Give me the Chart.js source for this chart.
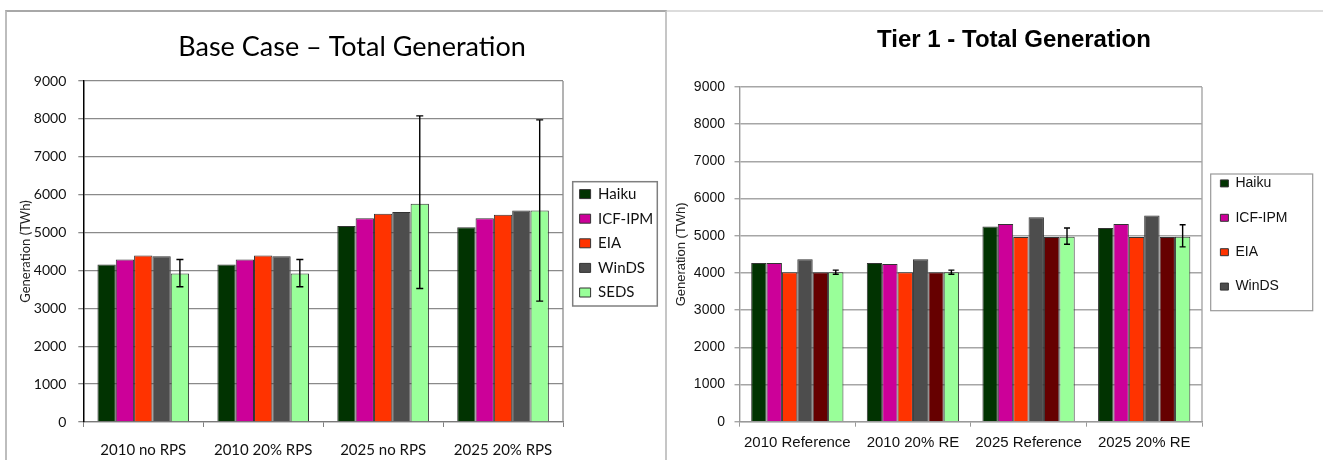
<!DOCTYPE html>
<html>
<head>
<meta charset="utf-8">
<title>Total Generation</title>
<script src="https://cdn.jsdelivr.net/npm/chart.js@4.4.1/dist/chart.umd.min.js"></script>
<style>
  body { margin: 0; background: #fff; width: 1323px; height: 460px; overflow: hidden; position: relative; }
  .panel { position: absolute; top: 10px; height: 460px; box-sizing: border-box; }
  #basePanel { left: 5px; width: 662px; border-left: 2px solid #bdbdbd; border-top: 2px solid #a8a8a8; border-right: 2px solid #c6c6c6; }
  #tierPanel { left: 667px; width: 660px; border-top: 2px solid #dcdcdc; }
  canvas { position: absolute; top: 0; }
</style>
</head>
<body>
<div class="panel" id="basePanel"></div>
<div class="panel" id="tierPanel"></div>
<canvas id="baseChart" width="666" height="460" style="left:0"></canvas>
<canvas id="tierChart" width="658" height="460" style="left:665px"></canvas>
<script>
// Base case chart
const baseCategories = ['2010 no RPS', '2010 20% RPS', '2025 no RPS', '2025 20% RPS'];
const baseHaiku = [4160, 4160, 5170, 5140];
const baseIcfIpm = [4290, 4290, 5375, 5378];
const baseEia = [4395, 4395, 5495, 5468];
const baseWinds = [4375, 4375, 5540, 5580];
const baseSeds = [3920, 3920, 5760, 5580];
const baseSedsLow = [3570, 3570, 3525, 3190];
const baseSedsHigh = [4290, 4290, 8080, 7975];

// Tier 1 chart
const tierCategories = ['2010 Reference', '2010 20% RE', '2025 Reference', '2025 20% RE'];
const tierHaiku = [4265, 4265, 5250, 5210];
const tierIcfIpm = [4265, 4240, 5315, 5315];
const tierEia = [4020, 4020, 4965, 4965];
const tierWinds = [4365, 4365, 5495, 5545];
const tierOther = [4020, 4020, 4965, 4965];
const tierSeds = [4020, 4020, 4970, 4970];
const tierSedsLow = [3965, 3965, 4770, 4700];
const tierSedsHigh = [4075, 4075, 5210, 5295];

const yTicks = [0, 9000, 1000]; // min, max, step

const colors = {
    haiku: '#013301',
    icf: '#cc0099',
    eia: '#ff3300',
    winds: '#4d4d4d',
    seds: '#99ff99',
    other: '#660000'
};

function bars(label, data, color) {
    return { label: label, data: data, backgroundColor: color, borderColor: '#333', borderWidth: 1 };
}

// moves title/legend where the original had them, draws legend frame and plot edge
const decor = {
    id: 'decor',
    afterLayout(chart, args, o) {
        var t = chart.titleBlock;
        var half = (t.right - t.left) / 2;
        t.left = o.titleX - half;
        t.right = o.titleX + half;
        var lg = chart.legend;
        var h = lg.bottom - lg.top;
        lg.left = o.legendX;
        lg.right = o.legendX + 130;
        lg.width = 130;
        lg.top = o.legendY;
        lg.bottom = o.legendY + h;
    },
    beforeDraw(chart, args, o) {
        var ctx = chart.ctx, f = o.frame;
        ctx.save();
        ctx.strokeStyle = f.color;
        ctx.lineWidth = f.width;
        ctx.strokeRect(f.x, f.y, f.w, f.h);
        ctx.restore();
    },
    afterDraw(chart, args, o) {
        var ctx = chart.ctx, a = chart.chartArea;
        ctx.save();
        ctx.strokeStyle = o.edgeColor;
        ctx.lineWidth = o.edgeWidth;
        ctx.beginPath();
        ctx.moveTo(a.right, a.top);
        ctx.lineTo(a.right, a.bottom);
        ctx.stroke();
        ctx.restore();
    }
};

const errorBars = {
    id: 'errorBars',
    afterDatasetsDraw(chart, args, o) {
        var meta = chart.getDatasetMeta(o.datasetIndex);
        var y = chart.scales.y;
        var ctx = chart.ctx;
        ctx.save();
        ctx.strokeStyle = '#000';
        ctx.lineWidth = o.lineWidth;
        meta.data.forEach(function (bar, i) {
            var top = y.getPixelForValue(o.high[i]);
            var bottom = y.getPixelForValue(o.low[i]);
            ctx.beginPath();
            ctx.moveTo(bar.x, top); ctx.lineTo(bar.x, bottom);
            ctx.moveTo(bar.x - o.cap, top); ctx.lineTo(bar.x + o.cap, top);
            ctx.moveTo(bar.x - o.cap, bottom); ctx.lineTo(bar.x + o.cap, bottom);
            ctx.stroke();
        });
        ctx.restore();
    }
};

function drawBase() {
    var font = 'Lato';
    new Chart(document.getElementById('baseChart'), {
        type: 'bar',
        data: {
            labels: baseCategories,
            datasets: [
                bars('Haiku', baseHaiku, colors.haiku),
                bars('ICF-IPM', baseIcfIpm, colors.icf),
                bars('EIA', baseEia, colors.eia),
                bars('WinDS', baseWinds, colors.winds),
                bars('SEDS', baseSeds, colors.seds)
            ]
        },
        options: {
            responsive: false,
            animation: false,
            layout: { padding: { left: 18, right: 43, top: 10, bottom: 0 } },
            datasets: { bar: { categoryPercentage: 0.764, barPercentage: 1 } },
            scales: {
                x: {
                    grid: { offset: true, drawOnChartArea: false, tickLength: 5, color: '#808080' },
                    border: { color: '#7a7a7a', width: 1.3 },
                    ticks: { padding: 14, maxRotation: 0, color: '#111', font: { family: font, size: 15 } },
                    afterFit: function (s) { s.height = 38; }
                },
                y: {
                    min: yTicks[0], max: yTicks[1],
                    ticks: { stepSize: yTicks[2], padding: 12, color: '#111', font: { family: font, size: 14 },
                        callback: function (v) { return String(v); } },
                    grid: { color: '#8a8a8a', lineWidth: 1.3, tickLength: 5 },
                    border: { color: '#000', width: 1.5 },
                    title: { display: true, text: 'Generation (TWh)', color: '#222', padding: 0,
                        font: { family: font, size: 13 } },
                    afterFit: function (s) { s.width = 65.3; }
                }
            },
            plugins: {
                title: {
                    display: true, text: 'Base Case – Total Generation', color: '#000',
                    font: { family: font, size: 27, weight: 'normal', lineHeight: 1.1 },
                    padding: { top: 22.2, bottom: 19.1 }
                },
                legend: {
                    position: 'right', align: 'start', fullSize: false, maxWidth: 60,
                    labels: { boxWidth: 11, boxHeight: 9, padding: 9.6, color: '#111',
                        font: { family: font, size: 15 } }
                },
                tooltip: { enabled: false },
                decor: {
                    titleX: 352, legendX: 570, legendY: 177,
                    frame: { x: 572.7, y: 181.7, w: 84.6, h: 124.3, color: '#7f7f7f', width: 1.5 },
                    edgeColor: '#8a8a8a', edgeWidth: 1.3
                },
                errorBars: { datasetIndex: 4, low: baseSedsLow, high: baseSedsHigh, cap: 3.5, lineWidth: 1.4 }
            }
        },
        plugins: [decor, errorBars]
    });
}

function drawTier() {
    var font = 'Liberation Sans, Arial, sans-serif';
    new Chart(document.getElementById('tierChart'), {
        type: 'bar',
        data: {
            labels: tierCategories,
            datasets: [
                bars('Haiku', tierHaiku, colors.haiku),
                bars('ICF-IPM', tierIcfIpm, colors.icf),
                bars('EIA', tierEia, colors.eia),
                bars('WinDS', tierWinds, colors.winds),
                bars('Other', tierOther, colors.other),
                bars('SEDS', tierSeds, colors.seds)
            ]
        },
        options: {
            responsive: false,
            animation: false,
            layout: { padding: { left: 9, right: 61, top: 10, bottom: 0 } },
            datasets: { bar: { categoryPercentage: 0.798, barPercentage: 1 } },
            scales: {
                x: {
                    grid: { offset: true, drawOnChartArea: false, tickLength: 5, color: '#999' },
                    border: { color: '#999', width: 1.3 },
                    ticks: { padding: 7.3, maxRotation: 0, color: '#111', font: { family: font, size: 15 } },
                    afterFit: function (s) { s.height = 38.3; }
                },
                y: {
                    min: yTicks[0], max: yTicks[1],
                    ticks: { stepSize: yTicks[2], padding: 9.5, color: '#111', font: { family: font, size: 14 },
                        callback: function (v) { return String(v); } },
                    grid: { color: '#a6a6a6', lineWidth: 1.4, tickLength: 5 },
                    border: { color: '#999', width: 1.4 },
                    title: { display: true, text: 'Generation (TWh)', color: '#222', padding: 0,
                        font: { family: font, size: 13 } },
                    afterFit: function (s) { s.width = 65.5; }
                }
            },
            plugins: {
                title: {
                    display: true, text: 'Tier 1 - Total Generation', color: '#000',
                    font: { family: font, size: 24, weight: 'bold', lineHeight: 1.15 },
                    padding: { top: 16.2, bottom: 33.2 }
                },
                legend: {
                    position: 'right', align: 'start', fullSize: false, maxWidth: 60,
                    labels: { boxWidth: 8, boxHeight: 7, padding: 20.4, color: '#111',
                        font: { family: font, size: 14 },
                        filter: function (item) { return item.datasetIndex < 4; } }
                },
                tooltip: { enabled: false },
                decor: {
                    titleX: 349, legendX: 535, legendY: 156,
                    frame: { x: 545.7, y: 174, w: 102, h: 136.7, color: '#999', width: 1.2 },
                    edgeColor: '#a6a6a6', edgeWidth: 1.4
                },
                errorBars: { datasetIndex: 5, low: tierSedsLow, high: tierSedsHigh, cap: 3, lineWidth: 1.4 }
            }
        },
        plugins: [decor, errorBars]
    });
}

Promise.all([
    document.fonts.load('27px Lato'),
    document.fonts.load('bold 24px "Liberation Sans"')
]).catch(function () {}).then(function () {
    drawBase();
    drawTier();
});
</script>
</body>
</html>
